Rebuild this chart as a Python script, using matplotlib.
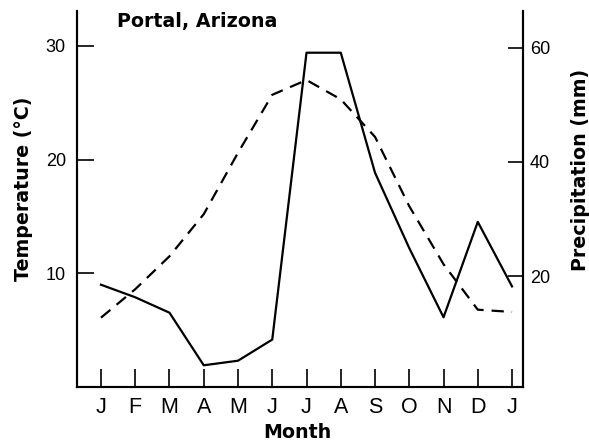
import matplotlib
matplotlib.use("Agg")
import matplotlib.pyplot as plt

months = ["J", "F", "M", "A", "M", "J", "J", "A", "S", "O", "N", "D", "J"]
temperature = [6.1, 8.6, 11.5, 15.2, 20.6, 25.7, 27.0, 25.3, 22.0, 15.9, 10.8, 6.8, 6.6]
precipitation = [18.5, 16.3, 13.6, 4.4, 5.2, 8.9, 59.1, 59.1, 38.1, 24.9, 12.8, 29.5, 18.2]
temp_ticks = [10, 20, 30]
precip_ticks = [20, 40, 60]

plt.rcParams['font.family'] = ['Liberation Sans', 'DejaVu Sans']

fig = plt.figure(figsize=(5.89, 4.43), dpi=100)
ax = fig.add_axes([77/589, 1-387/443, (523-77)/589, (387-11)/443])
ax2 = ax.twinx()

x = list(range(len(months)))
ax.plot(x, temperature, color='black', lw=1.6, linestyle=(0, (5.5, 3.6)))
ax2.plot(x, precipitation, color='black', lw=1.6)

ax.set_xlim(-0.70, 12.32)
ax.set_ylim(0, 33.07)
ax2.set_ylim(0.6, 66.4)

ax.set_xticks(x)
ax.set_xticklabels(months, fontsize=15.5)
ax.set_yticks(temp_ticks)
ax.set_yticklabels([str(t) for t in temp_ticks], fontsize=13)
ax2.set_yticks(precip_ticks)
ax2.set_yticklabels([str(t) for t in precip_ticks], fontsize=13)

ax.tick_params(axis='x', direction='in', length=13, width=1.2, pad=7)
ax.tick_params(axis='y', direction='in', length=12, width=1.2, pad=8)
ax2.tick_params(axis='y', direction='in', length=11, width=1.2, pad=5)

for a in (ax, ax2):
    a.spines['top'].set_visible(False)
    for s in ('left', 'right', 'bottom'):
        a.spines[s].set_linewidth(1.5)

lab_font = dict(family='DejaVu Sans', fontsize=13.7, fontweight='bold')
ax.set_xlabel("Month", **lab_font)
ax.xaxis.set_label_coords((297-77)/446, -0.097)
ax.xaxis.label.set_va('top')
ax.set_ylabel("Temperature (°C)", **lab_font)
ax.yaxis.set_label_coords((33-77)/446, (387-189)/376)
ax2.set_ylabel("Precipitation (mm)", **lab_font)
ax2.yaxis.set_label_coords((571-77)/446, (387-170)/376)

fig.text(117/589, 1-21/443, "Portal, Arizona", ha='left', va='center', **lab_font)

fig.savefig("out.png", dpi=100)
